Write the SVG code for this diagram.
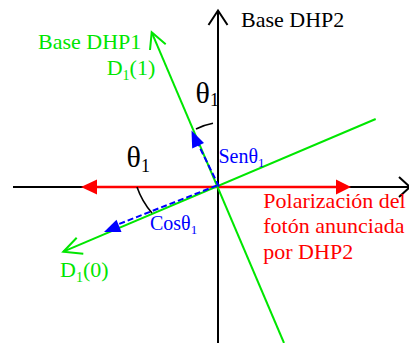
<svg xmlns="http://www.w3.org/2000/svg" width="409" height="343" viewBox="0 0 409 343" font-family="'Liberation Serif', serif">
<style>
text,tspan{font-family:'Liberation Serif','DejaVu Serif',serif;}
.ax{stroke:#000;stroke-width:2;fill:none;}
.gr{stroke:#00e600;stroke-width:2;fill:none;}
.rd{stroke:#ff0000;stroke-width:2.5;fill:none;}
.bl{stroke:#0000ff;stroke-width:2;stroke-dasharray:6 3;fill:none;}
.arc{stroke:#000;stroke-width:1.6;fill:none;}
.t22{font-size:22px;}
.th{font-size:30px;fill:#000;}
.bt{font-size:20px;fill:#0000ff;}
.g{fill:#00e600;}
.r{fill:#ff0000;}
</style>
<rect width="409" height="343" fill="#fff"/>
<g id="connectors">
  <line class="ax" x1="218" y1="11" x2="218" y2="343"/>
  <polyline class="ax" points="208.5,25 218,10.5 227.5,25"/>
  <line class="ax" x1="13" y1="187" x2="409" y2="187"/>
  <polyline class="ax" points="399,177 410,187 399,197"/>
  <line class="rd" x1="95" y1="187" x2="340" y2="187"/>
  <polygon fill="#ff0000" points="81,187 97,179.5 97,194.5"/>
  <polygon fill="#ff0000" points="351,187 336,179.5 336,194.5"/>
  <line class="gr" x1="151.7" y1="32.3" x2="284" y2="343"/>
  <polyline class="gr" points="150,50 151.7,32.3 165.7,44.3"/>
  <line class="gr" x1="63.3" y1="251.7" x2="375.7" y2="119"/>
  <polyline class="gr" points="76.7,237.7 63.3,251.7 83.3,253.7"/>
  <line class="bl" x1="219" y1="186.5" x2="198.5" y2="145"/>
  <polygon fill="#0000ff" points="191.5,130.5 204,143 192.2,148.5"/>
  <line class="bl" x1="217" y1="185.5" x2="119" y2="224"/>
  <polygon fill="#0000ff" points="104,232 121.5,232 116.5,219.8"/>
  <path class="arc" d="M213,123.3 A64,64 0 0 0 196,129"/>
  <path class="arc" d="M137,187 A78,78 0 0 0 152,213"/>
</g>
<g id="base-dhp2"><text class="t22" x="241" y="26.5" fill="#000">Base DHP2</text></g>
<g id="base-dhp1"><text class="t22 g" x="38" y="49.3">Base DHP1</text></g>
<g id="d1-1"><text class="t22 g" x="106.7" y="75">D<tspan font-size="14" dy="5">1</tspan><tspan dy="-5">(1)</tspan></text></g>
<g id="d1-0"><text class="t22 g" x="60" y="277">D<tspan font-size="14" dy="5">1</tspan><tspan dy="-5">(0)</tspan></text></g>
<g id="theta-top"><text class="th" x="195.5" y="103">θ<tspan font-size="18" dy="3">1</tspan></text></g>
<g id="theta-left"><text class="th" x="126.5" y="166.5">θ<tspan font-size="18" dy="5">1</tspan></text></g>
<g id="sen"><text class="bt" x="218.5" y="163.3">Senθ<tspan font-size="13" dy="4">1</tspan></text></g>
<g id="cos"><text class="bt" x="150" y="230">Cosθ<tspan font-size="13" dy="4">1</tspan></text></g>
<g id="polarizacion">
  <text class="t22 r" x="263.3" y="207.7">Polarización del</text>
  <text class="t22 r" x="263.3" y="232.7">fotón anunciada</text>
  <text class="t22 r" x="263.3" y="259.3">por DHP2</text>
</g>
</svg>
